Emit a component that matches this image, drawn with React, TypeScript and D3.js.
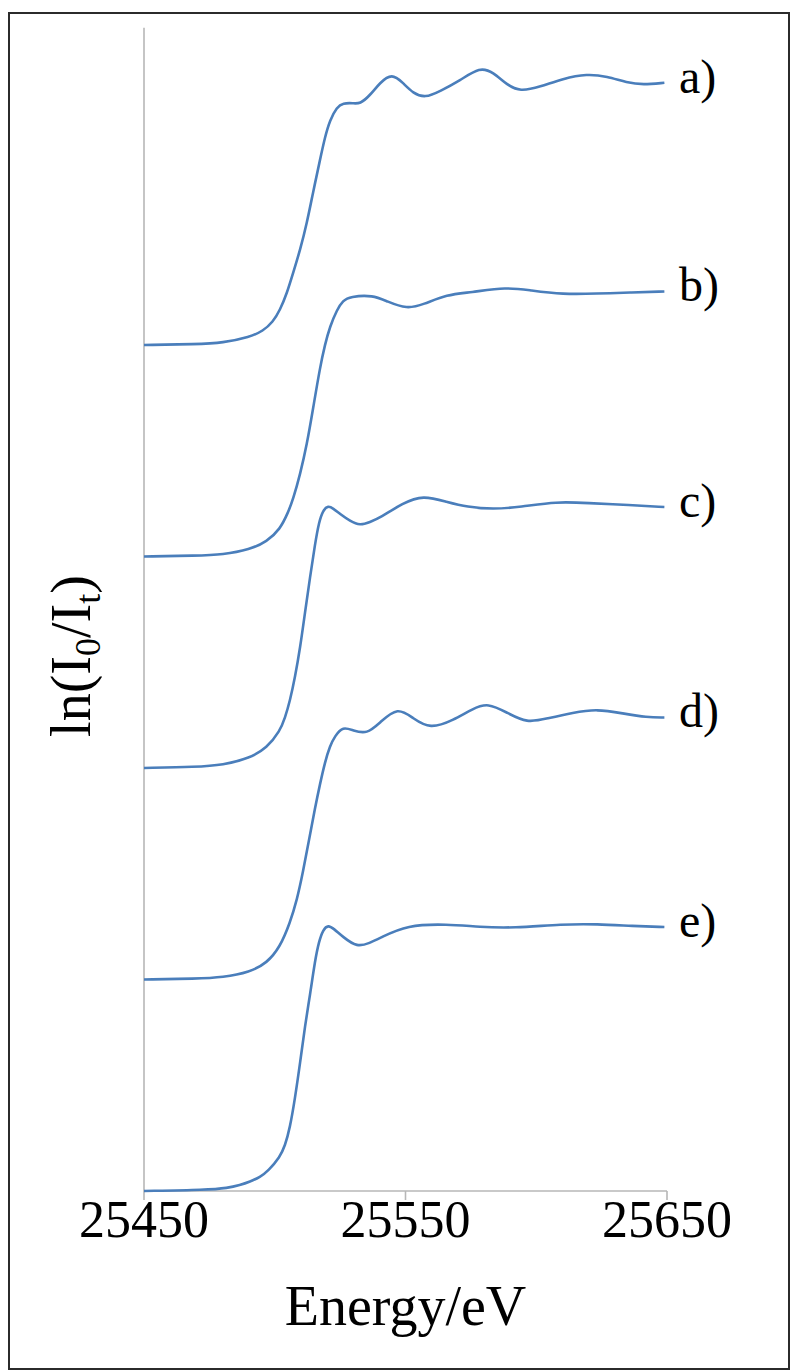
import React from "react";
import * as d3 from "d3";

// Energy grid (eV) and normalised absorbance for each spectrum
const aEnergy = [25450, 25470, 25480.2, 25490.5, 25495.5, 25499.3, 25502.0, 25504.7, 25507.0, 25509.7, 25512.3, 25514.6, 25517.3, 25519.2, 25521.1, 25523.8, 25526.1, 25529.9, 25532.6, 25536.4, 25540.2, 25544.8, 25549.0, 25552.9, 25557.5, 25563.2, 25570.8, 25578.5, 25583.5, 25588.8, 25593.8, 25601.4, 25610.2, 25619.4, 25627.1, 25634.7, 25640.8, 25649.0];
const aMu = [0, 0.004, 0.01, 0.038, 0.066, 0.109, 0.165, 0.246, 0.34, 0.449, 0.577, 0.719, 0.875, 0.983, 1.064, 1.125, 1.144, 1.144, 1.139, 1.18, 1.24, 1.285, 1.24, 1.19, 1.168, 1.2, 1.25, 1.315, 1.29, 1.23, 1.198, 1.22, 1.26, 1.282, 1.27, 1.24, 1.23, 1.24];

const bEnergy = [25450, 25470, 25480.2, 25490.5, 25497.0, 25502.0, 25505.1, 25507.0, 25509.7, 25512.3, 25514.6, 25517.3, 25519.2, 25521.1, 25523.8, 25526.1, 25528.8, 25537.6, 25542.9, 25550.6, 25556.7, 25565.9, 25574.7, 25588.8, 25597.6, 25610.2, 25623.2, 25635.8, 25649.0];
const bMu = [0, 0.004, 0.009, 0.033, 0.071, 0.128, 0.208, 0.27, 0.388, 0.53, 0.695, 0.894, 1.002, 1.087, 1.167, 1.21, 1.229, 1.236, 1.206, 1.17, 1.191, 1.239, 1.248, 1.274, 1.258, 1.239, 1.243, 1.248, 1.253];

const cEnergy = [25450, 25470, 25480.2, 25490.5, 25497.0, 25502.0, 25503.9, 25505.8, 25507.7, 25509.7, 25511.6, 25513.5, 25515.4, 25516.9, 25518.5, 25520.4, 25522.3, 25525.0, 25528.8, 25532.6, 25536.4, 25540.2, 25549.0, 25556.7, 25565.9, 25573.5, 25583.5, 25593.8, 25607.9, 25619.4, 25635.8, 25649.0];
const cMu = [0, 0.005, 0.014, 0.047, 0.095, 0.175, 0.236, 0.317, 0.426, 0.567, 0.738, 0.903, 1.059, 1.163, 1.22, 1.24, 1.228, 1.201, 1.168, 1.146, 1.163, 1.182, 1.253, 1.29, 1.258, 1.234, 1.223, 1.234, 1.26, 1.253, 1.243, 1.234];

const dEnergy = [25450, 25470, 25480.2, 25490.5, 25497.0, 25502.0, 25505.8, 25508.5, 25510.8, 25513.1, 25515.4, 25517.3, 25519.2, 25521.1, 25523.0, 25526.1, 25529.9, 25535.3, 25540.2, 25547.1, 25552.9, 25559.4, 25568.2, 25575.8, 25581.5, 25588.8, 25596.5, 25604.1, 25614.1, 25623.2, 25633.2, 25642.3, 25649.0];
const dMu = [0, 0.004, 0.01, 0.035, 0.078, 0.153, 0.267, 0.376, 0.508, 0.66, 0.811, 0.924, 1.028, 1.104, 1.151, 1.196, 1.177, 1.16, 1.215, 1.29, 1.234, 1.184, 1.225, 1.281, 1.308, 1.262, 1.212, 1.234, 1.262, 1.279, 1.258, 1.239, 1.239];

const eEnergy = [25450, 25474.1, 25482, 25486.7, 25490.5, 25494.4, 25497.5, 25502.0, 25503.9, 25505.8, 25507.7, 25509.7, 25511.6, 25513.5, 25515.4, 25516.9, 25518.5, 25520.4, 25522.7, 25526.1, 25531.5, 25536.4, 25540.2, 25550.6, 25565.9, 25578.5, 25591.1, 25610.2, 25623.2, 25637.0, 25649.0];
const eMu = [0, 0.005, 0.014, 0.028, 0.044, 0.066, 0.095, 0.161, 0.213, 0.298, 0.435, 0.605, 0.785, 0.927, 1.09, 1.18, 1.236, 1.258, 1.239, 1.201, 1.152, 1.173, 1.196, 1.258, 1.262, 1.248, 1.243, 1.262, 1.262, 1.253, 1.248];

const seriesLabels = ["a)", "b)", "c)", "d)", "e)"];
// vertical stacking offset for each spectrum
const stackOffsets = [4, 3, 2, 1, 0];

const xTicks = [25450, 25550, 25650];
const xDomain = [25450, 25650];
const yDomain = [0, 5.5];

const W = 792;
const H = 1372;

export default function App() {
  const x = d3.scaleLinear().domain(xDomain).range([144, 667]);
  const y = d3.scaleLinear().domain(yDomain).range([1191, 27.75]);

  const energies = [aEnergy, bEnergy, cEnergy, dEnergy, eEnergy];
  const mus = [aMu, bMu, cMu, dMu, eMu];

  const series = seriesLabels.map((label, i) => ({
    label,
    offset: stackOffsets[i],
    points: energies[i].map((en, j) => [en, mus[i][j] + stackOffsets[i]] as [number, number]),
  }));

  const line = d3
    .line<[number, number]>()
    .x((d) => x(d[0]))
    .y((d) => y(d[1]))
    .curve(d3.curveBasis);

  const axisColor = "#b7b7b7";
  const serif = "'Liberation Serif', 'Times New Roman', serif";
  const y0 = y(0);

  return (
    <svg
      width={W}
      height={H}
      style={{ position: "absolute", left: 0, top: 0, background: "#fff" }}
    >
      <rect x={9} y={13} width={780} height={1356} fill="#fff" stroke="#2b2b2b" strokeWidth={2} />

      {/* axes */}
      <line x1={x(xDomain[0])} x2={x(xDomain[0])} y1={y(yDomain[1])} y2={y0} stroke={axisColor} strokeWidth={1.6} />
      <line x1={x(xDomain[0])} x2={x(xDomain[1])} y1={y0} y2={y0} stroke={axisColor} strokeWidth={1.6} />
      {xTicks.map((t) => (
        <g key={t}>
          <line x1={x(t)} x2={x(t)} y1={y0} y2={y0 + 9} stroke={axisColor} strokeWidth={1.6} />
          <text
            x={x(t)}
            y={y0 + 46}
            textAnchor="middle"
            fontFamily={serif}
            fontSize={52}
            fill="#000"
          >
            {t}
          </text>
        </g>
      ))}

      <text x={(x(xDomain[0]) + x(xDomain[1])) / 2} y={1325} textAnchor="middle" fontFamily={serif} fontSize={56} fill="#000">
        Energy/eV
      </text>

      <text
        transform={`translate(90, ${656}) rotate(-90)`}
        textAnchor="middle"
        fontFamily={serif}
        fontSize={56}
        fill="#000"
      >
        ln(I<tspan fontSize={36} dy={10}>0</tspan>
        <tspan dy={-10}>/I</tspan>
        <tspan fontSize={36} dy={10}>t</tspan>
        <tspan dy={-10}>)</tspan>
      </text>

      {/* spectra */}
      {series.map((s) => {
        const last = s.points[s.points.length - 1];
        return (
          <g key={s.label}>
            <path d={line(s.points) ?? ""} fill="none" stroke="#4a7ebb" strokeWidth={2.6} />
            <text
              x={x(xDomain[1]) + 12}
              y={y(last[1]) + 10}
              fontFamily={serif}
              fontSize={48}
              fill="#000"
            >
              {s.label}
            </text>
          </g>
        );
      })}
    </svg>
  );
}
